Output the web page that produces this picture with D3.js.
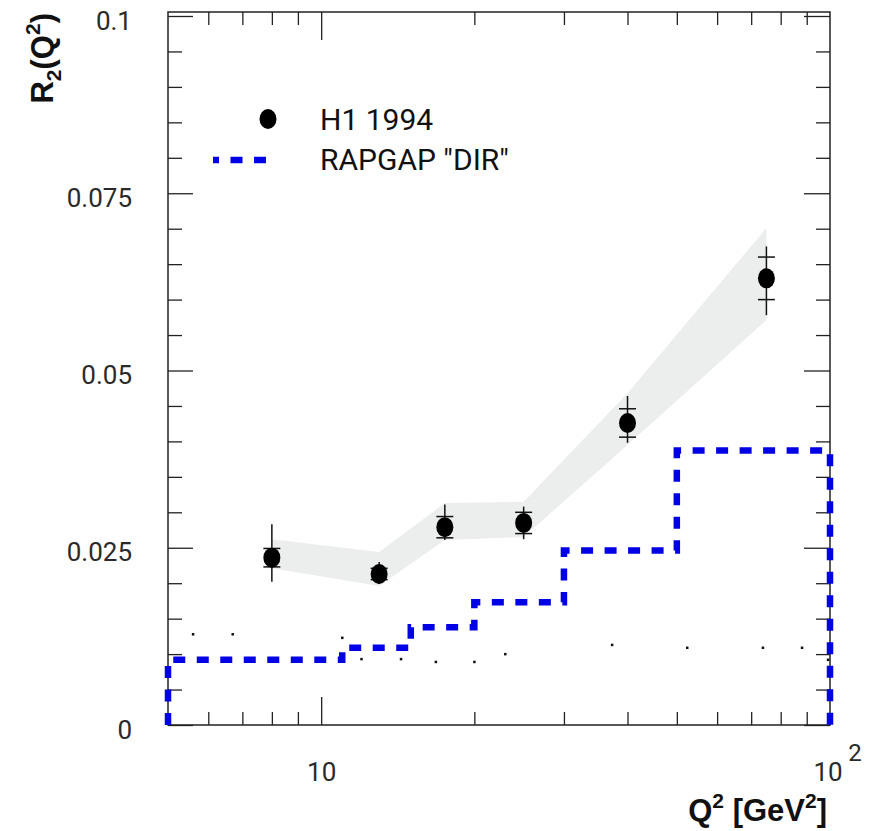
<!DOCTYPE html>
<html lang="en">
<head>
<meta charset="UTF-8" />
<title>R2(Q2) - H1 1994 vs RAPGAP DIR</title>
<script src="https://d3js.org/d3.v7.min.js"></script>
<style>
  body { margin: 0; background: #fff; font-family: Roboto, sans-serif; }
  svg { display: block; }
  .tick text { font-size: 26px; fill: #2a2a2a; font-family: Roboto, sans-serif; }
  .tick line { stroke: #222; stroke-width: 1.3; }
  .frame { fill: none; stroke: #222; stroke-width: 1.5; }
  .hist { fill: none; stroke: #0000e6; stroke-width: 6.5; stroke-dasharray: 12,11.5; }
  .band { fill: #eceeed; }
  .err { stroke: #111; stroke-width: 1.5; }
  .legend text { font-size: 30px; fill: #111; }
  .title { font-size: 31px; font-weight: bold; fill: #111; font-family: "Liberation Sans", Arial, sans-serif; }
  .lbl { font-size: 26px; fill: #2a2a2a; }
</style>
</head>
<body>
<div id="chart"></div>
<script>
// H1 1994 measurement
const q2 = [8.0, 13.0, 17.5, 25.0, 40.0, 75.0];
const r2 = [0.0236, 0.0213, 0.0279, 0.0285, 0.0426, 0.0630];
const statErr = [0.0013, 0.0008, 0.0015, 0.0015, 0.0020, 0.0030];
const totErrUp = [0.0047, 0.0017, 0.0032, 0.0023, 0.0038, 0.0045];
const totErrDn = [0.0034, 0.0014, 0.0018, 0.0023, 0.0028, 0.0052];
// systematic band
const bandLo = [0.0221, 0.0196, 0.0261, 0.0265, 0.0395, 0.0571];
const bandHi = [0.0262, 0.0244, 0.0313, 0.0315, 0.0468, 0.0701];
// RAPGAP "DIR" histogram
const binEdges = [5, 11, 15, 20, 30, 50, 100];
const rapgap = [0.0092, 0.0109, 0.0138, 0.0173, 0.0246, 0.0387];
// stray dots
const dotQ2 = [5.6, 6.7, 11.0, 11.0, 12.0, 14.35, 16.8, 20.0, 23.0, 37.3, 52.4, 73.8, 88.1, 99.1];
const dotR = [0.0128, 0.0128, 0.0123, 0.0094, 0.0093, 0.0093, 0.0089, 0.0089, 0.0100, 0.0113, 0.0109, 0.0109, 0.0109, 0.0092];
// ticks
const yMajor = [0, 0.025, 0.05, 0.075, 0.1];
const yMinor = d3.range(0, 0.1001, 0.005).filter(v => !yMajor.some(m => Math.abs(m - v) < 1e-6));
const xMajor = [10];
const xMinor = [6, 7, 8, 9, 20, 30, 40, 50, 60, 70, 80, 90];

const W = 869, H = 831;
const mLeft = 168, mRight = 830, mTop = 12, mBottom = 725;

const svg = d3.select("#chart").append("svg")
  .attr("width", W).attr("height", H);

const x = d3.scaleLog().domain([5, 100]).range([mLeft, mRight]);
const y = d3.scaleLinear().domain([0, 0.1]).range([mBottom, 16]);

// band
const bandData = q2.map((q, i) => ({ q, lo: bandLo[i], hi: bandHi[i] }));
svg.append("path").attr("class", "band")
  .attr("d", d3.area().x(d => x(d.q)).y0(d => y(d.lo)).y1(d => y(d.hi))(bandData));

// axes (inward ticks)
function clean(g) { g.select(".domain").remove(); }

svg.append("g").attr("transform", `translate(0,${mBottom})`)
  .call(d3.axisBottom(x).tickValues(xMajor).tickSizeInner(-28).tickSizeOuter(0).tickPadding(38).tickFormat(d3.format("d")))
  .call(clean);
svg.append("g").attr("transform", `translate(0,${mBottom})`)
  .call(d3.axisBottom(x).tickValues(xMinor).tickSizeInner(-13).tickSizeOuter(0).tickFormat(""))
  .call(clean);
svg.append("g").attr("transform", `translate(0,${mTop})`)
  .call(d3.axisTop(x).tickValues(xMajor).tickSizeInner(-28).tickSizeOuter(0).tickFormat(""))
  .call(clean);
svg.append("g").attr("transform", `translate(0,${mTop})`)
  .call(d3.axisTop(x).tickValues(xMinor).tickSizeInner(-13).tickSizeOuter(0).tickFormat(""))
  .call(clean);

const yFmt = d => d === 0 ? "0" : String(+d.toFixed(3));
svg.append("g").attr("transform", `translate(${mLeft},0)`)
  .call(d3.axisLeft(y).tickValues(yMajor).tickSizeInner(-25).tickSizeOuter(0).tickPadding(36).tickFormat(yFmt))
  .call(clean)
  .selectAll("text").attr("dy", "0.5em");
svg.append("g").attr("transform", `translate(${mLeft},0)`)
  .call(d3.axisLeft(y).tickValues(yMinor).tickSizeInner(-14).tickSizeOuter(0).tickFormat(""))
  .call(clean);
svg.append("g").attr("transform", `translate(${mRight},0)`)
  .call(d3.axisRight(y).tickValues(yMajor).tickSizeInner(-26).tickSizeOuter(0).tickFormat(""))
  .call(clean);
svg.append("g").attr("transform", `translate(${mRight},0)`)
  .call(d3.axisRight(y).tickValues(yMinor).tickSizeInner(-14).tickSizeOuter(0).tickFormat(""))
  .call(clean);

svg.append("rect").attr("class", "frame")
  .attr("x", mLeft).attr("y", mTop).attr("width", mRight - mLeft).attr("height", mBottom - mTop);

// 10^2 label
svg.append("text").attr("class", "lbl").attr("text-anchor", "middle")
  .attr("x", x(100) - 2).attr("y", 781).text("10");
svg.append("text").attr("class", "lbl").attr("text-anchor", "middle")
  .style("font-size", "24px")
  .attr("x", x(100) + 25).attr("y", 761).text("2");

// stray dots
svg.append("g").selectAll("rect").data(dotQ2).join("rect")
  .attr("x", d => x(d) - 1.2).attr("y", (d, i) => y(dotR[i]) - 1.2)
  .attr("width", 2.5).attr("height", 2.5).attr("fill", "#111");

// RAPGAP histogram
const histPts = [[binEdges[0], 0]];
rapgap.forEach((v, i) => { histPts.push([binEdges[i], v], [binEdges[i + 1], v]); });
histPts.push([binEdges[binEdges.length - 1], 0]);
svg.append("path").attr("class", "hist")
  .attr("d", d3.line().x(d => x(d[0])).y(d => y(d[1]))(histPts));

// error bars and markers
const pts = svg.append("g");
q2.forEach((q, i) => {
  const cx = x(q), cy = y(r2[i]);
  pts.append("line").attr("class", "err")
    .attr("x1", cx).attr("x2", cx)
    .attr("y1", y(r2[i] + totErrUp[i])).attr("y2", y(r2[i] - totErrDn[i]));
  [r2[i] + statErr[i], r2[i] - statErr[i]].forEach(v => {
    pts.append("line").attr("class", "err")
      .attr("x1", cx - 8.5).attr("x2", cx + 8.5)
      .attr("y1", y(v)).attr("y2", y(v));
  });
  pts.append("ellipse").attr("cx", cx).attr("cy", cy)
    .attr("rx", 8.5).attr("ry", 10).attr("fill", "#000");
});

// legend
const leg = svg.append("g").attr("class", "legend");
leg.append("ellipse").attr("cx", 268).attr("cy", 119).attr("rx", 8.5).attr("ry", 10).attr("fill", "#000");
leg.append("text").attr("x", 320).attr("y", 130).text("H1 1994");
leg.append("line").attr("class", "hist")
  .attr("x1", 213).attr("x2", 268).attr("y1", 160).attr("y2", 160)
  .style("stroke-dashoffset", 6);
leg.append("text").attr("x", 320).attr("y", 170).text('RAPGAP "DIR"');

// axis titles
const xt = svg.append("text").attr("class", "title").attr("text-anchor", "end")
  .attr("x", 827).attr("y", 821);
xt.append("tspan").text("Q");
xt.append("tspan").attr("dy", -13).style("font-size", "21px").text("2");
xt.append("tspan").attr("dy", 13).text(" [GeV");
xt.append("tspan").attr("dy", -13).style("font-size", "21px").text("2");
xt.append("tspan").attr("dy", 13).text("]");

const yt = svg.append("text").attr("class", "title").attr("text-anchor", "end")
  .attr("transform", "translate(53,13) rotate(-90)");
yt.append("tspan").text("R");
yt.append("tspan").attr("dy", 8).style("font-size", "21px").text("2");
yt.append("tspan").attr("dy", -8).text("(Q");
yt.append("tspan").attr("dy", -13).style("font-size", "21px").text("2");
yt.append("tspan").attr("dy", 13).text(")");
</script>
</body>
</html>
